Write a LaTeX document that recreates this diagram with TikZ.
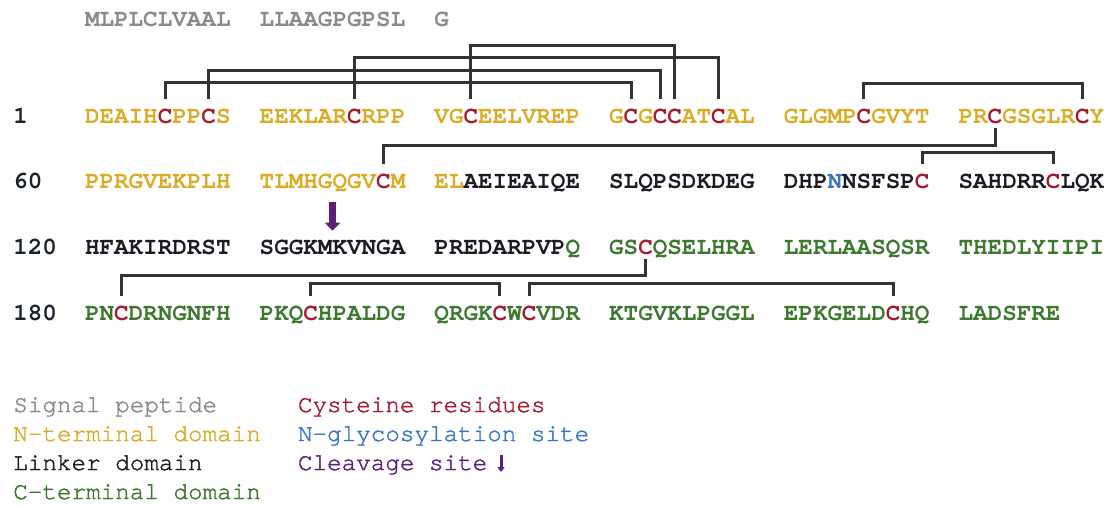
\documentclass[tikz,border=0pt]{standalone}
\usepackage{fontspec}
\usetikzlibrary{arrows.meta,calc}
\newfontfamily\seqfont{TeX Gyre Cursor}
\newfontfamily\legfont{TeX Gyre Cursor}[UprightFeatures={FakeBold=1.6}]

\definecolor{sigc}{RGB}{138,138,138}
\definecolor{ntc}{RGB}{218,172,40}
\definecolor{cysc}{RGB}{163,27,45}
\definecolor{linkc}{RGB}{28,28,36}
\definecolor{ctc}{RGB}{60,120,46}
\definecolor{glyc}{RGB}{58,118,200}
\definecolor{clvc}{RGB}{92,32,120}
\definecolor{bondc}{RGB}{51,51,51}
\definecolor{numc}{RGB}{28,36,48}

% residue highlights
\newcommand\cy[1]{\textcolor{cysc}{#1}}
\newcommand\gly[1]{\textcolor{glyc}{#1}}
\newcommand\lnk[1]{\textcolor{linkc}{#1}}
\newcommand\ctd[1]{\textcolor{ctc}{#1}}

% width of one residue column
\def\cw{14.56}

% coordinate on a residue: name, group node, position, vertical offset
\newcommand\resmark[4]{\coordinate (#1) at ($(#2.base west)+(#3*\cw+0.5*\cw,#4)$);}

\begin{document}
\begin{tikzpicture}[x=1pt,y=-1pt,
  seq/.style={anchor=base west,inner sep=0pt,outer sep=0pt,
    font={\seqfont\bfseries\fontsize{24.27}{28}\selectfont}},
  num/.style={seq,text=numc},
  legend/.style={anchor=base west,inner sep=0pt,outer sep=0pt,
    font={\legfont\fontsize{24.27}{28}\selectfont}},
  bond/.style={draw=bondc,line width=3pt},
  cleave/.style={draw=clvc,line width=7pt,-{Triangle[width=15pt,length=8pt]}},
  cleavesmall/.style={draw=clvc,line width=3pt,-{Triangle[width=7pt,length=5pt]}}]
\useasboundingbox (0,0) rectangle (1106,507);

% signal peptide
\node[seq,text=sigc] (s0) at (85,26) {MLPLCLVAAL};
\node[seq,text=sigc] (s1) at (259.72,26) {LLAAGPGPSL};
\node[seq,text=sigc] (s2) at (434.44,26) {G};

% row 1
\node[num] (n1) at (13.3,123) {1};
\node[seq,text=ntc] (r1g0) at (85,123) {DEAIH\cy{C}PP\cy{C}S};
\node[seq,text=ntc] (r1g1) at (259.72,123) {EEKLAR\cy{C}RPP};
\node[seq,text=ntc] (r1g2) at (434.44,123) {VG\cy{C}EELVREP};
\node[seq,text=ntc] (r1g3) at (609.16,123) {G\cy{C}G\cy{C}\cy{C}AT\cy{C}AL};
\node[seq,text=ntc] (r1g4) at (783.88,123) {GLGMP\cy{C}GVYT};
\node[seq,text=ntc] (r1g5) at (958.6,123) {PR\cy{C}GSGLR\cy{C}Y};

% row 2
\node[num] (n2) at (13.3,188.3) {60};
\node[seq,text=ntc] (r2g0) at (85,188.3) {PPRGVEKPLH};
\node[seq,text=ntc] (r2g1) at (259.72,188.3) {TLMHGQGV\cy{C}M};
\node[seq,text=ntc] (r2g2) at (434.44,188.3) {EL\lnk{AEIEAIQE}};
\node[seq,text=linkc] (r2g3) at (609.16,188.3) {SLQPSDKDEG};
\node[seq,text=linkc] (r2g4) at (783.88,188.3) {DHP\gly{N}NSFSP\cy{C}};
\node[seq,text=linkc] (r2g5) at (958.6,188.3) {SAHDRR\cy{C}LQK};

% row 3
\node[num] (n3) at (13.3,254.3) {120};
\node[seq,text=linkc] (r3g0) at (85,254.3) {HFAKIRDRST};
\node[seq,text=linkc] (r3g1) at (259.72,254.3) {SGGKMKVNGA};
\node[seq,text=linkc] (r3g2) at (434.44,254.3) {PREDARPVP\ctd{Q}};
\node[seq,text=ctc] (r3g3) at (609.16,254.3) {GS\cy{C}QSELHRA};
\node[seq,text=ctc] (r3g4) at (783.88,254.3) {LERLAASQSR};
\node[seq,text=ctc] (r3g5) at (958.6,254.3) {THEDLYIIPI};

% row 4
\node[num] (n4) at (13.3,320) {180};
\node[seq,text=ctc] (r4g0) at (85,320) {PN\cy{C}DRNGNFH};
\node[seq,text=ctc] (r4g1) at (259.72,320) {PKQ\cy{C}HPALDG};
\node[seq,text=ctc] (r4g2) at (434.44,320) {QRGK\cy{C}W\cy{C}VDR};
\node[seq,text=ctc] (r4g3) at (609.16,320) {KTGVKLPGGL};
\node[seq,text=ctc] (r4g4) at (783.88,320) {EPKGELD\cy{C}HQ};
\node[seq,text=ctc] (r4g5) at (958.6,320) {LADSFRE};

% bond ends on cysteines (above: -24, below: +5)
\resmark{a5}{r1g0}{5}{-24}
\resmark{a8}{r1g0}{8}{-24}
\resmark{a18}{r1g1}{6}{-24}
\resmark{a26}{r1g2}{2}{-24}
\resmark{a37}{r1g3}{1}{-24}
\resmark{a39}{r1g3}{3}{-24}
\resmark{a40}{r1g3}{4}{-24}
\resmark{a43}{r1g3}{7}{-24}
\resmark{a53}{r1g4}{5}{-24}
\resmark{a68}{r1g5}{8}{-24}
\resmark{a62}{r1g5}{2}{5}
\resmark{b20}{r2g1}{8}{-24}
\resmark{b57}{r2g4}{9}{-24}
\resmark{b66}{r2g5}{6}{-24}
\resmark{c38}{r3g3}{2}{5}
\resmark{d2}{r4g0}{2}{-24}
\resmark{d15}{r4g1}{3}{-24}
\resmark{d28}{r4g2}{4}{-24}
\resmark{d30}{r4g2}{6}{-24}
\resmark{d55}{r4g4}{7}{-24}

% disulfide bonds
\draw[bond] (a5) -- ++(0,-17) -| (a37);
\draw[bond] (a8) -- ++(0,-29) -| (a39);
\draw[bond] (a18) -- ++(0,-41.5) -| (a43);
\draw[bond] (a26) -- ++(0,-54) -| (a40);
\draw[bond] (a53) -- ++(0,-16) -| (a68);
\draw[bond] (a62) -- ++(0,17) -| (b20);
\draw[bond] (b57) -- ++(0,-11.5) -| (b66);
\draw[bond] (c38) -- ++(0,16.5) -| (d2);
\draw[bond] (d15) -- ++(0,-12.7) -| (d28);
\draw[bond] (d30) -- ++(0,-12.7) -| (d55);

% cleavage site
\draw[cleave] ($(r2g1.base west)+(5*\cw,13.4)$) -- ++(0,29);

% legend
\node[legend,text=sigc] (l1) at (13.3,412) {Signal peptide};
\node[legend,text=ntc] (l2) at (13.3,441) {N-terminal domain};
\node[legend,text=linkc] (l3) at (13.3,470) {Linker domain};
\node[legend,text=ctc] (l4) at (13.3,499) {C-terminal domain};
\node[legend,text=cysc] (l5) at (298,412) {Cysteine residues};
\node[legend,text=glyc] (l6) at (298,441) {N-glycosylation site};
\node[legend,text=clvc] (l7) at (298,470) {Cleavage site};
\draw[cleavesmall] ($(l7.base east)+(13.7,-15)$) -- ++(0,17);
\end{tikzpicture}
\end{document}
